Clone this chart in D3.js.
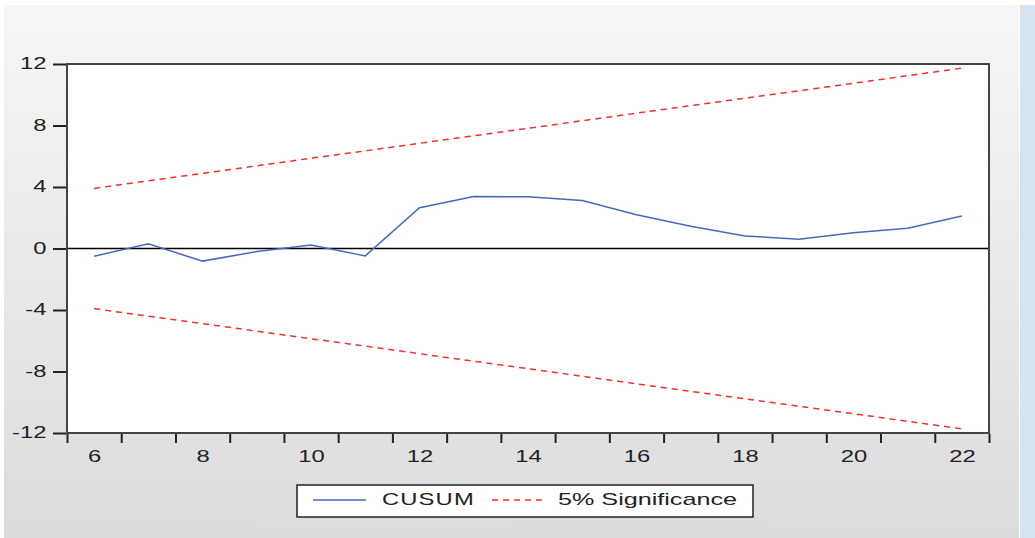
<!DOCTYPE html>
<meta charset="utf-8">
<style>
body{margin:0;overflow:hidden;}
text{font-family:"Liberation Sans",Arial,sans-serif;fill:#222;}
.tick text{font-size:17px;}
.legend text{font-size:17px;}
</style>
<body>
<script src="https://d3js.org/d3.v7.min.js"></script>
<script>

var years=[6,7,8,9,10,11,12,13,14,15,16,17,18,19,20,21,22];
var cusum=[-0.5,0.3,-0.82,-0.2,0.22,-0.48,2.65,3.38,3.36,3.12,2.2,1.45,0.82,0.6,1.02,1.32,2.12];
var upper=[3.91,4.40,4.89,5.38,5.87,6.35,6.84,7.33,7.82,8.31,8.80,9.29,9.78,10.26,10.75,11.24,11.73];
var lower=[-3.91,-4.40,-4.89,-5.38,-5.87,-6.35,-6.84,-7.33,-7.82,-8.31,-8.80,-9.29,-9.78,-10.26,-10.75,-11.24,-11.73];
var xLabels=[6,8,10,12,14,16,18,20,22];
var yTicks=[-12,-8,-4,0,4,8,12];
var legendNames=["CUSUM","5% Significance"];

var W=1035,H=538;
var stretch=1.4; // the source picture is widened horizontally
var svg=d3.select("body").append("svg").attr("width",W).attr("height",H);

var defs=svg.append("defs");
var grad=defs.append("linearGradient").attr("id","bg").attr("x1",0).attr("y1",0).attr("x2",0).attr("y2",1);
grad.append("stop").attr("offset","0%").attr("stop-color","#f5f6f7");
grad.append("stop").attr("offset","100%").attr("stop-color","#dcdcdc");

// window background, white edges and blue strip on the right
svg.append("rect").attr("width",W).attr("height",H).attr("fill","#fff");
svg.append("rect").attr("x",4).attr("y",5).attr("width",1015).attr("height",H-5).attr("fill","url(#bg)");
svg.append("rect").attr("x",1020).attr("y",5).attr("width",15).attr("height",H-5).attr("fill","#d6e4f2");

var x=d3.scaleLinear().domain([5.5,22.5]).range([67,989]);
var y=d3.scaleLinear().domain([-12,12]).range([433,64]);

svg.append("rect").attr("x",67).attr("y",64).attr("width",922).attr("height",369)
	.attr("fill","#fff");

// zero line
svg.append("line").attr("x1",x(5.5)).attr("x2",x(22.5)).attr("y1",y(0)).attr("y2",y(0))
	.attr("stroke","#000").attr("stroke-width",1.5);

var line=d3.line().x((d,i)=>x(years[i])).y(d=>y(d));

svg.append("path").datum(upper).attr("d",line).attr("fill","none")
	.attr("stroke","#ff2a2a").attr("stroke-width",1.5).attr("stroke-dasharray","6,5");
svg.append("path").datum(lower).attr("d",line).attr("fill","none")
	.attr("stroke","#ff2a2a").attr("stroke-width",1.5).attr("stroke-dasharray","6,5");
svg.append("path").datum(cusum).attr("d",line).attr("fill","none")
	.attr("stroke","#4a67bd").attr("stroke-width",1.5);

// frame
svg.append("rect").attr("x",67).attr("y",64).attr("width",922).attr("height",369)
	.attr("fill","none").attr("stroke","#444").attr("stroke-width",2);

// axes
var tickPos=d3.range(5.5,23,1);
var xTickAxis=svg.append("g").attr("transform","translate(0,434)")
	.call(d3.axisBottom(x).tickValues(tickPos).tickSize(9).tickFormat(""));
xTickAxis.select(".domain").remove();
xTickAxis.selectAll("line").attr("stroke","#222").attr("stroke-width",2);

var xLab=svg.append("g").attr("transform","translate(0,434)")
	.call(d3.axisBottom(x).tickValues(xLabels).tickSize(0).tickPadding(16));
xLab.select(".domain").remove();
xLab.selectAll("text").attr("fill","#222").attr("transform","scale("+stretch+",1)");

var yAx=svg.append("g").attr("transform","translate(66,0)")
	.call(d3.axisLeft(y).tickValues(yTicks).tickSize(13).tickPadding(1).tickFormat(d=>String(d)));
yAx.select(".domain").remove();
yAx.selectAll("line").attr("stroke","#222").attr("stroke-width",2);
yAx.selectAll("text").attr("fill","#222").attr("dy","0.28em")
	.attr("transform","scale("+stretch+",1)");

// legend
var lg=svg.append("g").attr("class","legend");
lg.append("rect").attr("x",297).attr("y",485).attr("width",456).attr("height",32)
	.attr("fill","#fff").attr("stroke","#222").attr("stroke-width",1.5);
lg.append("line").attr("x1",313).attr("x2",366).attr("y1",500).attr("y2",500)
	.attr("stroke","#4a67bd").attr("stroke-width",1.5);
lg.append("text").attr("transform","translate(382,505) scale("+stretch+",1)")
	.attr("letter-spacing","0.8px").text(legendNames[0]);
lg.append("line").attr("x1",492).attr("x2",545).attr("y1",500).attr("y2",500)
	.attr("stroke","#ff2a2a").attr("stroke-width",1.5).attr("stroke-dasharray","6,5");
lg.append("text").attr("transform","translate(558,505) scale(1.48,1)").text(legendNames[1]);

</script>
</body>
